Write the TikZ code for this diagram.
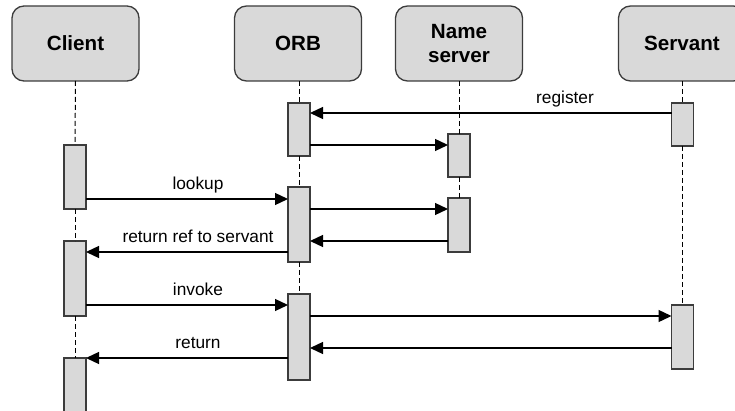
\documentclass[tikz,border=0pt]{standalone}
\usepackage{fontspec}
\setmainfont{Liberation Sans}
\usetikzlibrary{arrows.meta}
\definecolor{boxfill}{HTML}{D9D9D9}
\definecolor{boxline}{HTML}{3C3C3C}
\begin{document}
\begin{tikzpicture}[x=1pt,y=-1pt,
  header/.style={draw=boxline, line width=1.3pt, fill=boxfill, rounded corners=12pt,
    minimum width=127pt, minimum height=75pt, inner sep=0pt, outer sep=0pt,
    align=center, font=\fontsize{20.6}{24}\selectfont\bfseries},
  act/.style={draw=boxline, line width=1.3pt, fill=boxfill, minimum width=22pt,
    inner sep=0pt, outer sep=0pt},
  life/.style={draw=black, line width=1pt, dash pattern=on 5pt off 3pt},
  msg/.style={draw=black, line width=1.3pt, -{Triangle[length=13pt,width=12pt]}},
  lbl/.style={anchor=base, inner sep=0pt, font=\fontsize{17.3}{20}\selectfont}]
\useasboundingbox (0,0) rectangle (735,411);
\clip (0,0) rectangle (735,411);

% participants
\node[header] (client) at (75.5,43.5) {Client};
\node[header] (orb) at (298,43.5) {ORB};
\node[header] (ns) at (459,43.5) {Name\\server};
\node[header] (srv) at (682,43.5) {Servant};

% activation bars
\node[act, minimum height=64pt] (c1) at (75,177) {};
\node[act, minimum height=75pt] (c2) at (75,278.5) {};
\node[act, minimum height=67pt] (c3) at (75,391.5) {};
\node[act, minimum height=53pt] (o1) at (299,129.5) {};
\node[act, minimum height=75pt] (o2) at (299,224.5) {};
\node[act, minimum height=86pt] (o3) at (299,337) {};
\node[act, minimum height=43pt] (n1) at (459,155.5) {};
\node[act, minimum height=54pt] (n2) at (459,225) {};
\node[act, minimum height=43pt] (s1) at (682.5,124.5) {};
\node[act, minimum height=64pt] (s2) at (682.5,337) {};

% lifelines
\draw[life] (client.south) -- (c1.north);
\draw[life] (c1.south) -- (c2.north);
\draw[life] (c2.south) -- (c3.north);
\draw[life] (orb.south -| o1.north) -- (o1.north);
\draw[life] (o1.south) -- (o2.north);
\draw[life] (o2.south) -- (o3.north);
\draw[life] (ns.south) -- (n1.north);
\draw[life] (n1.south) -- (n2.north);
\draw[life] (srv.south -| s1.north) -- (s1.north);
\draw[life] (s1.south) -- (s2.north);

% message levels
\coordinate (m1) at (0,113);
\coordinate (m2) at (0,145);
\coordinate (m3) at (0,199);
\coordinate (m4) at (0,209);
\coordinate (m5) at (0,241);
\coordinate (m6) at (0,252);
\coordinate (m7) at (0,305);
\coordinate (m8) at (0,316);
\coordinate (m9) at (0,348);
\coordinate (m10) at (0,358);

% messages
\draw[msg] (s1.west |- m1) -- (o1.east |- m1);
\draw[msg] (o1.east |- m2) -- (n1.west |- m2);
\draw[msg] (c1.east |- m3) -- (o2.west |- m3);
\draw[msg] (o2.east |- m4) -- (n2.west |- m4);
\draw[msg] (n2.west |- m5) -- (o2.east |- m5);
\draw[msg] (o2.west |- m6) -- (c2.east |- m6);
\draw[msg] (c2.east |- m7) -- (o3.west |- m7);
\draw[msg] (o3.east |- m8) -- (s2.west |- m8);
\draw[msg] (s2.west |- m9) -- (o3.east |- m9);
\draw[msg] (o3.west |- m10) -- (c3.east |- m10);

% message labels
\node[lbl] (t1) at (565,103.5) {register};
\node[lbl] (t3) at (198,189.5) {lookup};
\node[lbl] (t6) at (198,242.5) {return ref to servant};
\node[lbl] (t7) at (198,295.5) {invoke};
\node[lbl] (t10) at (198,348.5) {return};
\end{tikzpicture}
\end{document}
